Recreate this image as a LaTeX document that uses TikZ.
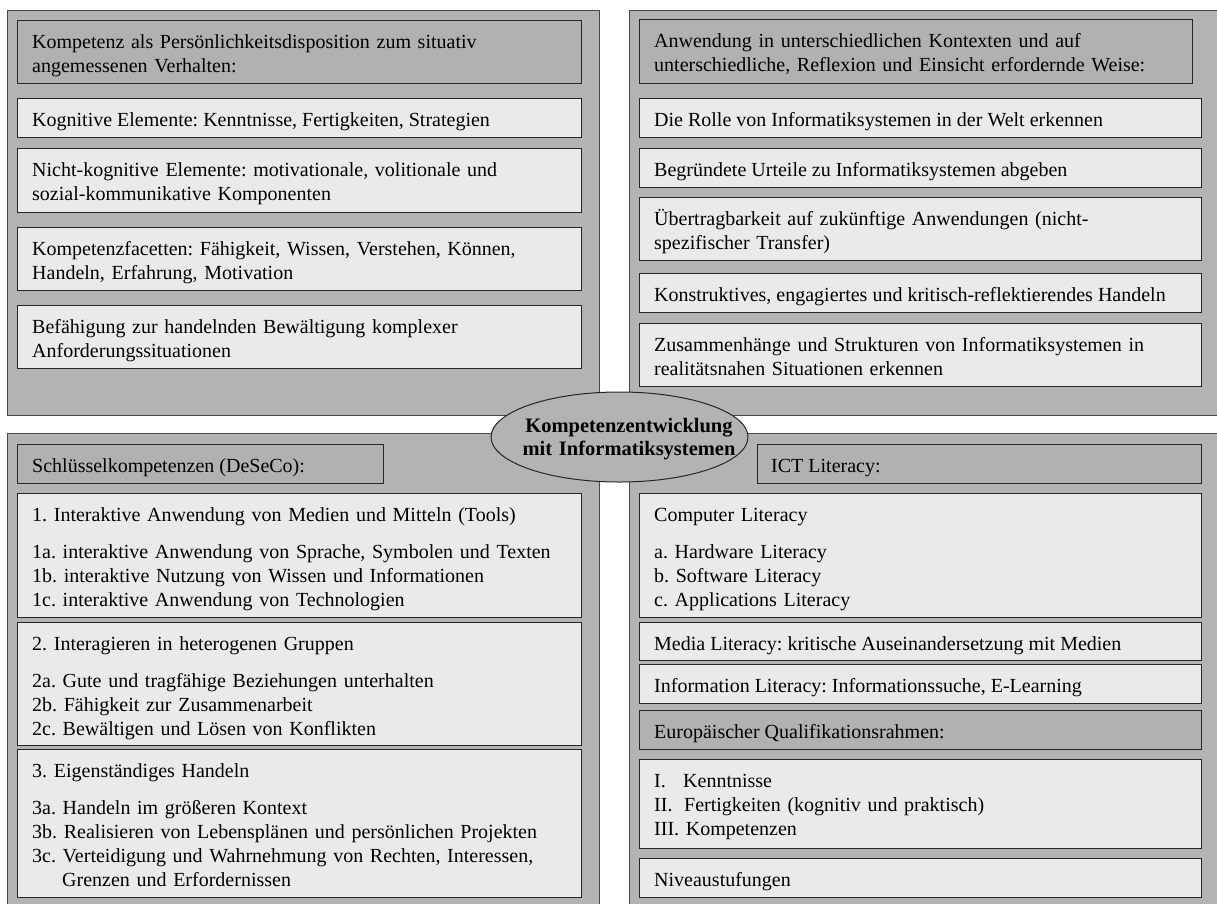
\documentclass[tikz,border=0pt]{standalone}
\usepackage{fontspec}
\setmainfont{Liberation Serif}
\usetikzlibrary{shapes.geometric}
\definecolor{panelgray}{HTML}{B3B3B3}
\definecolor{headgray}{HTML}{B1B1B1}
\definecolor{boxgray}{HTML}{EAEAEA}
\definecolor{edgecol}{HTML}{262626}
\frenchspacing
\begin{document}
\begin{tikzpicture}[x=1pt,y=-1pt,
  panel/.style={draw=edgecol!85, fill=panelgray, line width=1pt, rectangle,
    inner sep=0pt, anchor=north west},
  hbox/.style={draw=edgecol, fill=headgray, line width=1.3pt, rectangle,
    inner sep=0pt, anchor=north west},
  lbox/.style={draw=edgecol, fill=boxgray, line width=1.3pt, rectangle,
    inner sep=0pt, anchor=north west},
  txt/.style={anchor=base west, inner sep=0pt, font=\fontsize{20}{24}\selectfont\frenchspacing},
  mtxt/.style={txt, text width=580pt, align=left},
]
\useasboundingbox (0,0) rectangle (1217,903);
\fill[white] (0,0) rectangle (1217,903);

% four background panels
\node[panel, minimum width=592, minimum height=405] (p1) at (7,10) {};
\node[panel, minimum width=590, minimum height=405] (p2) at (629,10) {};
\node[panel, minimum width=592, minimum height=472] (p3) at (7,433) {};
\node[panel, minimum width=590, minimum height=472] (p4) at (629,433) {};

% top left: Kompetenz
\node[hbox, minimum width=564, minimum height=63] (a0) at (17,20) {};
\node[lbox, minimum width=564, minimum height=39] (a1) at (17,98) {};
\node[lbox, minimum width=564, minimum height=64] (a2) at (17,148) {};
\node[lbox, minimum width=564, minimum height=63] (a3) at (17,227) {};
\node[lbox, minimum width=564, minimum height=63] (a4) at (17,305) {};
\node[mtxt] (a0t) at ([shift={(15,28)}]a0.north west)
  {Kompetenz als Persönlichkeitsdisposition zum situativ\\angemessenen Verhalten:};
\node[txt] (a1t) at ([shift={(15,28)}]a1.north west)
  {Kognitive Elemente: Kenntnisse, Fertigkeiten, Strategien};
\node[mtxt] (a2t) at ([shift={(15,28)}]a2.north west)
  {Nicht-kognitive Elemente: motivationale, volitionale und\\sozial-kommunikative Komponenten};
\node[mtxt] (a3t) at ([shift={(15,28)}]a3.north west)
  {Kompetenzfacetten: Fähigkeit, Wissen, Verstehen, Können,\\Handeln, Erfahrung, Motivation};
\node[mtxt] (a4t) at ([shift={(15,28)}]a4.north west)
  {Befähigung zur handelnden Bewältigung komplexer\\Anforderungssituationen};

% top right: Anwendung
\node[hbox, minimum width=553, minimum height=64] (b0) at (639,19) {};
\node[lbox, minimum width=562, minimum height=39] (b1) at (639,98) {};
\node[lbox, minimum width=562, minimum height=39] (b2) at (639,148) {};
\node[lbox, minimum width=562, minimum height=63] (b3) at (639,197) {};
\node[lbox, minimum width=562, minimum height=39] (b4) at (639,273) {};
\node[lbox, minimum width=562, minimum height=63] (b5) at (639,323) {};
\node[mtxt] (b0t) at ([shift={(15,28)}]b0.north west)
  {Anwendung in unterschiedlichen Kontexten und auf\\unterschiedliche, Reflexion und Einsicht erfordernde Weise:};
\node[txt] (b1t) at ([shift={(15,28)}]b1.north west)
  {Die Rolle von Informatiksystemen in der Welt erkennen};
\node[txt] (b2t) at ([shift={(15,28)}]b2.north west)
  {Begründete Urteile zu Informatiksystemen abgeben};
\node[mtxt] (b3t) at ([shift={(15,28)}]b3.north west)
  {Übertragbarkeit auf zukünftige Anwendungen (nicht-\\spezifischer Transfer)};
\node[txt] (b4t) at ([shift={(15,28)}]b4.north west)
  {Konstruktives, engagiertes und kritisch-reflektierendes Handeln};
\node[mtxt] (b5t) at ([shift={(15,28)}]b5.north west)
  {Zusammenhänge und Strukturen von Informatiksystemen in\\realitätsnahen Situationen erkennen};

% bottom left: DeSeCo
\node[hbox, minimum width=366, minimum height=39] (c0) at (17,444) {};
\node[lbox, minimum width=564, minimum height=124] (c1) at (17,493) {};
\node[lbox, minimum width=564, minimum height=123] (c2) at (17,622) {};
\node[lbox, minimum width=564, minimum height=148] (c3) at (17,749) {};
\node[txt] (c0t) at ([shift={(15,28)}]c0.north west) {Schlüsselkompetenzen (DeSeCo):};
\node[mtxt] (c1t) at ([shift={(15,28)}]c1.north west)
  {1. Interaktive Anwendung von Medien und Mitteln (Tools)\\[13pt]
   1a. interaktive Anwendung von Sprache, Symbolen und Texten\\
   1b. interaktive Nutzung von Wissen und Informationen\\
   1c. interaktive Anwendung von Technologien};
\node[mtxt] (c2t) at ([shift={(15,28)}]c2.north west)
  {2. Interagieren in heterogenen Gruppen\\[13pt]
   2a. Gute und tragfähige Beziehungen unterhalten\\
   2b. Fähigkeit zur Zusammenarbeit\\
   2c. Bewältigen und Lösen von Konflikten};
\node[mtxt] (c3t) at ([shift={(15,28)}]c3.north west)
  {3. Eigenständiges Handeln\\[13pt]
   3a. Handeln im größeren Kontext\\
   3b. Realisieren von Lebensplänen und persönlichen Projekten\\
   3c. Verteidigung und Wahrnehmung von Rechten, Interessen,\\
   \hspace*{30pt}Grenzen und Erfordernissen};

% bottom right: ICT Literacy and EQR
\node[hbox, minimum width=444, minimum height=39] (d0) at (757,444) {};
\node[lbox, minimum width=562, minimum height=124] (d1) at (639,493) {};
\node[lbox, minimum width=562, minimum height=38] (d2) at (639,622) {};
\node[lbox, minimum width=562, minimum height=39] (d3) at (639,664) {};
\node[hbox, minimum width=562, minimum height=39] (d4) at (639,710) {};
\node[lbox, minimum width=562, minimum height=89] (d5) at (639,759) {};
\node[lbox, minimum width=562, minimum height=39] (d6) at (639,858) {};
\node[txt] (d0t) at ([shift={(14,28)}]d0.north west) {ICT Literacy:};
\node[mtxt] (d1t) at ([shift={(15,28)}]d1.north west)
  {Computer Literacy\\[13pt]
   a. Hardware Literacy\\
   b. Software Literacy\\
   c. Applications Literacy};
\node[txt] (d2t) at ([shift={(15,28)}]d2.north west)
  {Media Literacy: kritische Auseinandersetzung mit Medien};
\node[txt] (d3t) at ([shift={(15,28)}]d3.north west)
  {Information Literacy: Informationssuche, E-Learning};
\node[txt] (d4t) at ([shift={(15,28)}]d4.north west)
  {Europäischer Qualifikationsrahmen:};
\node[mtxt] (d5t) at ([shift={(15,28)}]d5.north west)
  {\makebox[29pt][l]{I.}Kenntnisse\\
   \makebox[30pt][l]{II.}Fertigkeiten (kognitiv und praktisch)\\
   III. Kompetenzen};
\node[txt] (d6t) at ([shift={(15,28)}]d6.north west) {Niveaustufungen};

% central ellipse
\node[ellipse, draw=edgecol, fill=panelgray, line width=1pt, inner sep=0pt,
  minimum width=257, minimum height=90] (core) at (619.5,437) {};
\node[anchor=base, inner sep=0pt, text width=260pt, align=center,
  font=\fontsize{20.5}{23}\selectfont\bfseries] (coret) at (629,432)
  {Kompetenzentwicklung\\mit Informatiksystemen};
\end{tikzpicture}
\end{document}
